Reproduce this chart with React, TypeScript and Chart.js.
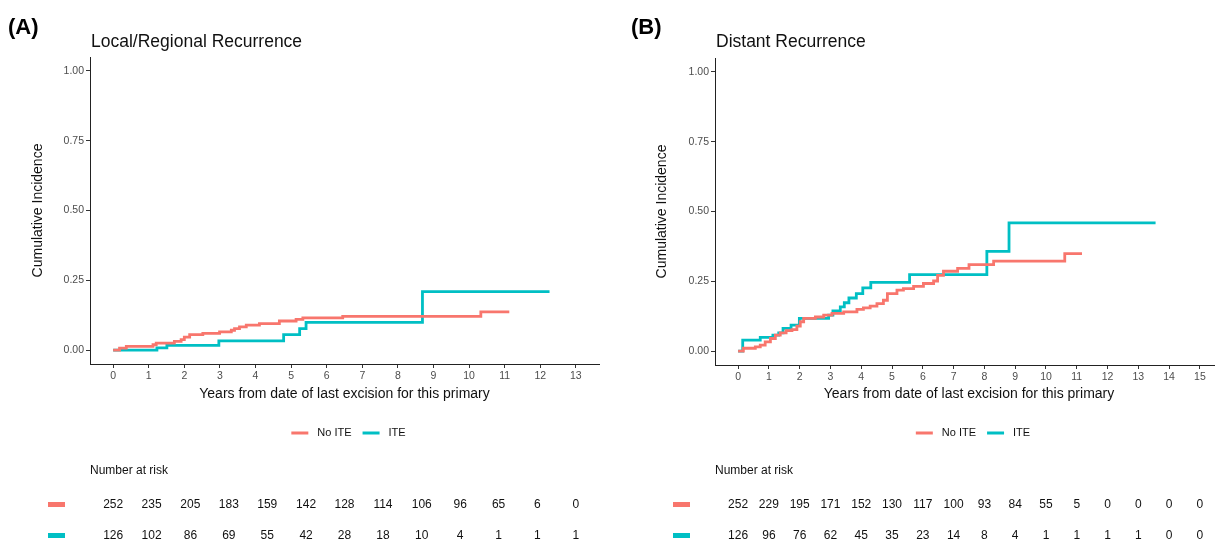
import React, { useEffect, useRef } from "react";
import { Chart, registerables } from "chart.js";

Chart.register(...registerables);

const FONT = "'Liberation Sans', Arial, Helvetica, sans-serif";
const RED = "#F8766D";
const CYAN = "#00BFC4";

const groupLabels = ["No ITE", "ITE"];
const yTicks = [0, 0.25, 0.5, 0.75, 1];
const yTitle = "Cumulative Incidence";
const xTitle = "Years from date of last excision for this primary";
const riskTitle = "Number at risk";

// ---------- Panel A: Local/Regional Recurrence ----------
const localTag = "(A)";
const localTitle = "Local/Regional Recurrence";
const localXTicks = [0, 1, 2, 3, 4, 5, 6, 7, 8, 9, 10, 11, 12, 13];
const localNoIteTimes = [0, 0.18, 0.37, 1.12, 1.21, 1.72, 1.91, 2.0, 2.15, 2.52, 2.99, 3.32, 3.41, 3.55, 3.74, 4.11, 4.67, 5.14, 5.33, 6.45, 10.33, 11.13];
const localNoIteCif = [0, 0.007, 0.013, 0.019, 0.025, 0.031, 0.037, 0.046, 0.055, 0.06, 0.065, 0.071, 0.077, 0.083, 0.089, 0.095, 0.104, 0.11, 0.115, 0.121, 0.137, 0.137];
const localIteTimes = [0, 1.23, 1.51, 2.97, 4.79, 5.24, 5.42, 8.69, 12.26];
const localIteCif = [0, 0.008, 0.017, 0.033, 0.055, 0.077, 0.099, 0.209, 0.209];
const localRiskTimes = [0, 1.08, 2.17, 3.25, 4.33, 5.42, 6.5, 7.58, 8.67, 9.75, 10.83, 11.92, 13];
const localRiskNoIte = [252, 235, 205, 183, 159, 142, 128, 114, 106, 96, 65, 6, 0];
const localRiskIte = [126, 102, 86, 69, 55, 42, 28, 18, 10, 4, 1, 1, 1];

// ---------- Panel B: Distant Recurrence ----------
const distantTag = "(B)";
const distantTitle = "Distant Recurrence";
const distantXTicks = [0, 1, 2, 3, 4, 5, 6, 7, 8, 9, 10, 11, 12, 13, 14, 15];
const distantNoIteTimes = [0, 0.07, 0.17, 0.56, 0.72, 0.88, 1.05, 1.21, 1.37, 1.56, 1.75, 1.91, 2.02, 2.13, 2.51, 2.78, 3.05, 3.43, 3.86, 4.07, 4.29, 4.51, 4.72, 4.85, 5.16, 5.37, 5.7, 6.02, 6.35, 6.48, 6.67, 7.13, 7.5, 8.3, 10.61, 11.17];
const distantNoIteCif = [0, 0, 0.01, 0.015, 0.021, 0.033, 0.045, 0.057, 0.065, 0.073, 0.077, 0.089, 0.105, 0.117, 0.122, 0.129, 0.135, 0.14, 0.149, 0.155, 0.161, 0.17, 0.182, 0.206, 0.218, 0.224, 0.232, 0.242, 0.251, 0.271, 0.286, 0.296, 0.31, 0.322, 0.349, 0.349];
const distantIteTimes = [0, 0.05, 0.15, 0.72, 1.13, 1.32, 1.46, 1.72, 1.99, 2.94, 3.08, 3.32, 3.45, 3.6, 3.84, 4.05, 4.31, 5.57, 8.08, 8.8, 13.56];
const distantIteCif = [0, 0, 0.039, 0.049, 0.057, 0.065, 0.081, 0.093, 0.117, 0.129, 0.144, 0.158, 0.173, 0.19, 0.206, 0.226, 0.246, 0.274, 0.357, 0.459, 0.459];
const distantRiskTimes = [0, 1, 2, 3, 4, 5, 6, 7, 8, 9, 10, 11, 12, 13, 14, 15];
const distantRiskNoIte = [252, 229, 195, 171, 152, 130, 117, 100, 93, 84, 55, 5, 0, 0, 0, 0];
const distantRiskIte = [126, 96, 76, 62, 45, 35, 23, 14, 8, 4, 1, 1, 1, 1, 0, 0];

const toPoints = (ts: number[], vs: number[]) => ts.map((t, i) => ({ x: t, y: vs[i] }));

type PanelProps = {
  canvasLeft: number;
  canvasWidth: number;
  tag: string;
  tagX: number;
  title: string;
  xTicks: number[];
  xMin: number;
  xMax: number;
  series: { label: string; color: string; times: number[]; cif: number[] }[];
  riskTimes: number[];
  riskRows: number[][];
  yAxisWidth: number;
  padTop: number;
  padRight: number;
  xAxisHeight: number;
  yTitleX: number;
  keyX: number;
};

const annotatePlugin = {
  id: "annotate",
  afterDraw(chart: any, _args: any, opts: any) {
    const ctx: CanvasRenderingContext2D = chart.ctx;
    const ca = chart.chartArea;
    const xs = chart.scales.x;
    const cx = (ca.left + ca.right) / 2;
    ctx.save();
    ctx.fillStyle = "#000";
    // panel tag
    ctx.font = `bold 22px ${FONT}`;
    ctx.textAlign = "left";
    ctx.textBaseline = "alphabetic";
    ctx.fillText(opts.tag, opts.tagX, 34);
    // title
    ctx.font = `17.5px ${FONT}`;
    ctx.fillStyle = "#111";
    ctx.fillText(opts.title, ca.left + 1, 47);
    // axis titles
    ctx.font = `14px ${FONT}`;
    ctx.textAlign = "center";
    ctx.textBaseline = "middle";
    ctx.fillText(xTitle, cx, 394);
    ctx.save();
    ctx.translate(opts.yTitleX, (ca.top + ca.bottom) / 2);
    ctx.rotate(-Math.PI / 2);
    ctx.fillText(yTitle, 0, 0);
    ctx.restore();
    // legend
    ctx.font = `11px ${FONT}`;
    const keyW = 17;
    const w1 = ctx.measureText(groupLabels[0]).width;
    const w2 = ctx.measureText(groupLabels[1]).width;
    const total = keyW + 9 + w1 + 11 + keyW + 9 + w2;
    let lx = cx + 4 - total / 2;
    const ly = 433;
    const colors = [RED, CYAN];
    const widths = [w1, w2];
    ctx.textAlign = "left";
    for (let i = 0; i < 2; i++) {
      ctx.strokeStyle = colors[i];
      ctx.lineWidth = 3;
      ctx.beginPath();
      ctx.moveTo(lx, ly);
      ctx.lineTo(lx + keyW, ly);
      ctx.stroke();
      lx += keyW + 9;
      ctx.fillStyle = "#111";
      ctx.fillText(groupLabels[i], lx, ly);
      lx += widths[i] + 11;
    }
    // risk table
    ctx.font = `12px ${FONT}`;
    ctx.fillStyle = "#111";
    ctx.fillText(riskTitle, ca.left, 471);
    const rowY = [505, 536];
    ctx.textAlign = "center";
    opts.riskRows.forEach((row: number[], r: number) => {
      ctx.fillStyle = colors[r];
      ctx.fillRect(opts.keyX, rowY[r] - 3, 17, 5);
      ctx.fillStyle = "#111";
      row.forEach((n: number, i: number) => {
        ctx.fillText(String(n), xs.getPixelForValue(opts.riskTimes[i]), rowY[r]);
      });
    });
    ctx.restore();
  },
};

function Panel(p: PanelProps) {
  const ref = useRef<HTMLCanvasElement>(null);
  useEffect(() => {
    if (!ref.current) return;
    const axisColor = "#222";
    const chart = new Chart(ref.current, {
      type: "line",
      data: {
        datasets: p.series.map((s) => ({
          label: s.label,
          data: toPoints(s.times, s.cif),
          borderColor: s.color,
          backgroundColor: s.color,
          borderWidth: 2.8,
          pointRadius: 0,
          stepped: "before" as const,
          fill: false,
          tension: 0,
        })),
      },
      options: {
        animation: false,
        responsive: false,
        devicePixelRatio: 1,
        layout: { padding: { left: 0, top: p.padTop, right: p.padRight, bottom: 0 } },
        plugins: {
          legend: { display: false },
          tooltip: { enabled: false },
          title: { display: false },
          annotate: {
            tag: p.tag,
            tagX: p.tagX,
            title: p.title,
            yTitleX: p.yTitleX,
            riskTimes: p.riskTimes,
            riskRows: p.riskRows,
            keyX: p.keyX,
          },
        } as any,
        scales: {
          x: {
            type: "linear",
            min: p.xMin,
            max: p.xMax,
            afterBuildTicks: (scale: any) => {
              scale.ticks = p.xTicks.map((v) => ({ value: v }));
            },
            afterFit: (scale: any) => {
              scale.height = p.xAxisHeight;
            },
            ticks: {
              autoSkip: false,
              maxRotation: 0,
              padding: 2,
              color: "#4D4D4D",
              font: { family: FONT, size: 10.5 },
              callback: (v: any) => String(v),
            },
            grid: { drawOnChartArea: false, drawTicks: true, tickLength: 4, color: "#333", lineWidth: 1 },
            border: { display: true, color: axisColor, width: 1 },
          },
          y: {
            type: "linear",
            min: -0.05,
            max: 1.05,
            afterBuildTicks: (scale: any) => {
              scale.ticks = yTicks.map((v) => ({ value: v }));
            },
            afterFit: (scale: any) => {
              scale.width = p.yAxisWidth;
            },
            ticks: {
              padding: 2,
              color: "#4D4D4D",
              font: { family: FONT, size: 10.5 },
              callback: (v: any) => Number(v).toFixed(2),
            },
            grid: { drawOnChartArea: false, drawTicks: true, tickLength: 4, color: "#333", lineWidth: 1 },
            border: { display: true, color: axisColor, width: 1 },
          },
        },
      },
      plugins: [annotatePlugin],
    } as any);
    return () => chart.destroy();
  }, []);
  return (
    <canvas
      ref={ref}
      width={p.canvasWidth}
      height={542}
      style={{ position: "absolute", left: p.canvasLeft, top: 0, width: p.canvasWidth, height: 542 }}
    />
  );
}

export default function App() {
  return (
    <div
      style={{
        position: "fixed",
        left: 0,
        top: 0,
        width: 1215,
        height: 542,
        overflow: "hidden",
        background: "#fff",
      }}
    >
      <Panel
        canvasLeft={0}
        canvasWidth={607}
        tag={localTag}
        tagX={8}
        title={localTitle}
        xTicks={localXTicks}
        xMin={-0.65}
        xMax={13.65}
        series={[
          { label: groupLabels[0], color: RED, times: localNoIteTimes, cif: localNoIteCif },
          { label: groupLabels[1], color: CYAN, times: localIteTimes, cif: localIteCif },
        ]}
        riskTimes={localRiskTimes}
        riskRows={[localRiskNoIte, localRiskIte]}
        yAxisWidth={90}
        padTop={57}
        padRight={8}
        xAxisHeight={178}
        yTitleX={38}
        keyX={48}
      />
      <Panel
        canvasLeft={607}
        canvasWidth={620}
        tag={distantTag}
        tagX={24}
        title={distantTitle}
        xTicks={distantXTicks}
        xMin={-0.75}
        xMax={15.75}
        series={[
          { label: groupLabels[0], color: RED, times: distantNoIteTimes, cif: distantNoIteCif },
          { label: groupLabels[1], color: CYAN, times: distantIteTimes, cif: distantIteCif },
        ]}
        riskTimes={distantRiskTimes}
        riskRows={[distantRiskNoIte, distantRiskIte]}
        yAxisWidth={108}
        padTop={58}
        padRight={4}
        xAxisHeight={177}
        yTitleX={55}
        keyX={66}
      />
    </div>
  );
}
